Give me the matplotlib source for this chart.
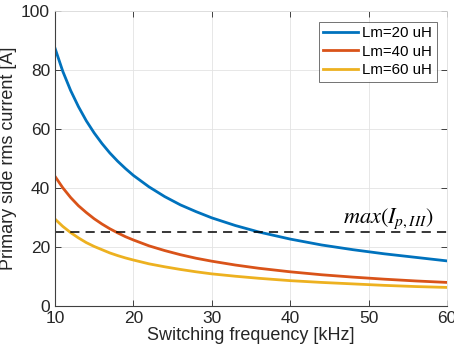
import matplotlib
matplotlib.use("Agg")
import matplotlib.pyplot as plt

freq = [10, 11, 12, 13, 14, 15, 16, 17, 18, 19, 20, 22, 24, 26, 28, 30, 33, 36, 40, 44, 48, 52, 56, 60]
i_lm20 = [87.5, 79.6, 73.1, 67.6, 62.8, 58.7, 55.1, 51.9, 49.1, 46.6, 44.3, 40.4, 37.1, 34.3, 32.0,
          29.9, 27.3, 25.1, 22.7, 20.7, 19.1, 17.7, 16.5, 15.3]
i_lm40 = [44.0, 40.1, 36.8, 34.0, 31.7, 29.6, 27.8, 26.2, 24.8, 23.5, 22.4, 20.4, 18.8, 17.4, 16.2,
          15.2, 13.9, 12.8, 11.6, 10.6, 9.8, 9.1, 8.5, 8.0]
i_lm60 = [29.5, 27.0, 24.9, 23.1, 21.5, 20.2, 19.1, 18.0, 17.1, 16.3, 15.6, 14.3, 13.3, 12.4, 11.6,
          10.9, 10.1, 9.4, 8.6, 8.0, 7.5, 7.0, 6.6, 6.3]
labels = ["Lm=20 uH", "Lm=40 uH", "Lm=60 uH"]
limit = 25
xticks = [10, 20, 30, 40, 50, 60]
yticks = [0, 20, 40, 60, 80, 100]

plt.rcParams['font.family'] = ['Liberation Sans', 'DejaVu Sans']
plt.rcParams['mathtext.fontset'] = 'stix'

fig = plt.figure(figsize=(4.54, 3.59), dpi=100)
ax = fig.add_axes([0.121, 0.1476, 0.8636, 0.8214])

colors = ['#0072BD', '#D95319', '#EDB120']
for y, lab, c in zip([i_lm20, i_lm40, i_lm60], labels, colors):
    ax.plot(freq, y, color=c, lw=2, label=lab)
ax.axhline(limit, color='black', ls=(0, (6, 4)), lw=1.1)
ax.text(58.3, limit + 0.6, r'$max(I_{p,III})$', ha='right', va='bottom', fontsize=16)

ax.set_xlim(10, 60)
ax.set_ylim(0, 100)
ax.set_xticks(xticks)
ax.set_yticks(yticks)
ax.grid(True, color='#e3e3e3', lw=0.6)
ax.set_axisbelow(True)
ax.tick_params(direction='in', top=True, right=True, labelsize=12.5, colors='#262626', length=4, width=0.6)
for s in ['left', 'bottom']:
    ax.spines[s].set_color('#404040')
    ax.spines[s].set_linewidth(0.8)
for s in ['top', 'right']:
    ax.spines[s].set_color('#dddddd')
    ax.spines[s].set_linewidth(0.6)
ax.set_xlabel('Switching frequency [kHz]', fontsize=13, color='#262626', labelpad=1)
ax.set_ylabel('Primary side rms current [A]', fontsize=13, color='#262626', labelpad=3)
leg = ax.legend(loc='upper right', fontsize=10.8, frameon=True, fancybox=False,
                edgecolor='#333333', handlelength=2.3, handletextpad=0.3,
                borderpad=0.3, labelspacing=0.3, bbox_to_anchor=(0.993, 0.99))
leg.get_frame().set_linewidth(0.6)

fig.savefig('out.png', dpi=100)
